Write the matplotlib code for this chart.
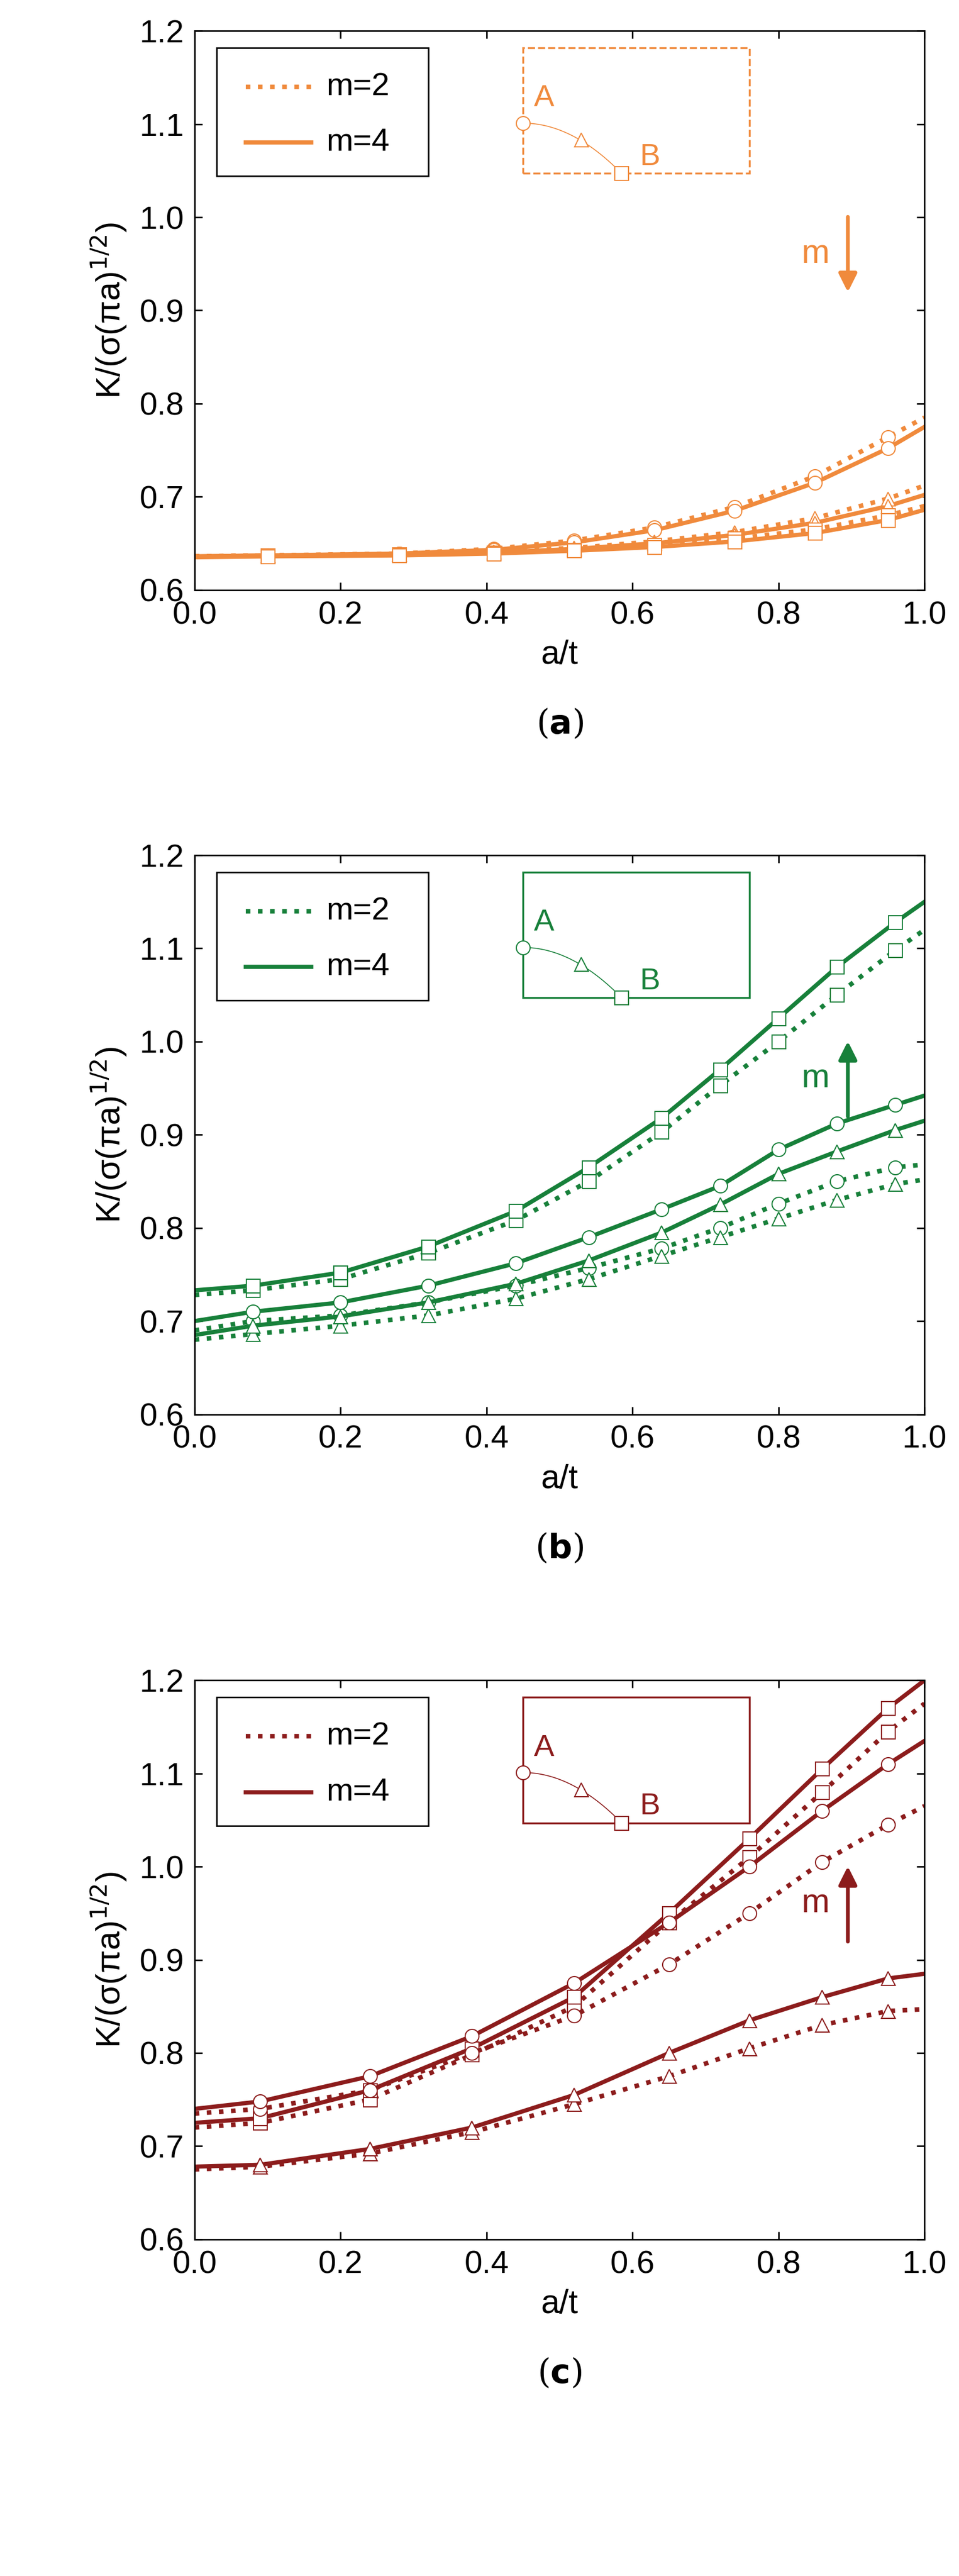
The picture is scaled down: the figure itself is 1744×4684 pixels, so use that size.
import numpy as np
import matplotlib.pyplot as plt
from matplotlib.patches import Rectangle, FancyArrowPatch

plt.rcParams['font.family'] = ['Liberation Sans', 'DejaVu Sans']

# ---- panel (a) ----
xa = [0.0, 0.1, 0.28, 0.41, 0.52, 0.63, 0.74, 0.85, 0.95, 1.0]
a_circ_m2 = [0.636, 0.637, 0.639, 0.644, 0.653, 0.667, 0.689, 0.722, 0.764, 0.785]
a_circ_m4 = [0.636, 0.637, 0.639, 0.643, 0.651, 0.664, 0.685, 0.715, 0.752, 0.775]
a_tri_m2 = [0.636, 0.637, 0.638, 0.641, 0.645, 0.652, 0.662, 0.677, 0.698, 0.712]
a_tri_m4 = [0.636, 0.637, 0.638, 0.640, 0.644, 0.650, 0.659, 0.672, 0.690, 0.702]
a_sq_m2 = [0.636, 0.637, 0.638, 0.640, 0.643, 0.648, 0.655, 0.665, 0.680, 0.690]
a_sq_m4 = [0.635, 0.636, 0.637, 0.639, 0.642, 0.646, 0.652, 0.661, 0.675, 0.686]

# ---- panel (b) ----
xb = [0.0, 0.08, 0.2, 0.32, 0.44, 0.54, 0.64, 0.72, 0.8, 0.88, 0.96, 1.0]
b_sq_m4 = [0.733, 0.738, 0.752, 0.780, 0.818, 0.865, 0.918, 0.970, 1.025, 1.080, 1.128, 1.150]
b_sq_m2 = [0.728, 0.733, 0.745, 0.773, 0.808, 0.850, 0.903, 0.953, 1.000, 1.050, 1.098, 1.120]
b_circ_m4 = [0.700, 0.710, 0.720, 0.738, 0.762, 0.790, 0.820, 0.845, 0.884, 0.912, 0.932, 0.942]
b_circ_m2 = [0.690, 0.700, 0.706, 0.720, 0.738, 0.757, 0.778, 0.800, 0.826, 0.850, 0.865, 0.868]
b_tri_m4 = [0.685, 0.695, 0.705, 0.720, 0.740, 0.765, 0.795, 0.825, 0.858, 0.882, 0.905, 0.915]
b_tri_m2 = [0.680, 0.686, 0.695, 0.706, 0.724, 0.745, 0.770, 0.790, 0.810, 0.830, 0.847, 0.852]

# ---- panel (c) ----
xc = [0.0, 0.09, 0.24, 0.38, 0.52, 0.65, 0.76, 0.86, 0.95, 1.0]
c_sq_m4 = [0.725, 0.730, 0.760, 0.805, 0.860, 0.950, 1.030, 1.105, 1.170, 1.200]
c_sq_m2 = [0.720, 0.725, 0.750, 0.798, 0.850, 0.940, 1.010, 1.080, 1.145, 1.175]
c_circ_m4 = [0.740, 0.748, 0.775, 0.818, 0.875, 0.940, 1.000, 1.060, 1.110, 1.135]
c_circ_m2 = [0.735, 0.740, 0.760, 0.800, 0.840, 0.895, 0.950, 1.005, 1.045, 1.065]
c_tri_m4 = [0.678, 0.680, 0.697, 0.720, 0.755, 0.800, 0.835, 0.860, 0.880, 0.885]
c_tri_m2 = [0.675, 0.678, 0.692, 0.715, 0.745, 0.775, 0.805, 0.830, 0.845, 0.847]

panels = [
    ('a', '#F08A3C', xa, [(a_circ_m2, a_circ_m4, 'o'), (a_tri_m2, a_tri_m4, '^'), (a_sq_m2, a_sq_m4, 's')], 'down'),
    ('b', '#17803A', xb, [(b_sq_m2, b_sq_m4, 's'), (b_circ_m2, b_circ_m4, 'o'), (b_tri_m2, b_tri_m4, '^')], 'up'),
    ('c', '#8C1C1C', xc, [(c_sq_m2, c_sq_m4, 's'), (c_circ_m2, c_circ_m4, 'o'), (c_tri_m2, c_tri_m4, '^')], 'up'),
]

fig = plt.figure(figsize=(17.44, 46.84), dpi=100)
bottoms = [0.771, 0.451, 0.1307]
for (lab, col, x, series, arrow), bot in zip(panels, bottoms):
    ax = fig.add_axes([0.203, bot, 0.761, 0.217])
    for m2, m4, mk in series:
        ax.plot(x, m2, ':', color=col, lw=6)
        ax.plot(x, m4, '-', color=col, lw=5.5)
        ax.plot(x[1:-1], m2[1:-1], mk, ls='none', ms=18, mfc='white', mec=col, mew=1.5)
        ax.plot(x[1:-1], m4[1:-1], mk, ls='none', ms=18, mfc='white', mec=col, mew=1.5)
    ax.set_xlim(0, 1)
    ax.set_ylim(0.6, 1.2)
    ax.set_xticks(np.arange(0, 1.01, 0.2))
    ax.set_yticks(np.arange(0.6, 1.21, 0.1))
    ax.tick_params(labelsize=42, direction='in', length=10, width=2, top=True, right=True, pad=14)
    for s in ax.spines.values():
        s.set_linewidth(2)
    ax.set_xlabel('a/t', fontsize=44, labelpad=12)
    ax.set_ylabel(r'K/(σ(πa)$^{1/2}$)', fontsize=44, labelpad=14)

    # legend box
    ax.add_patch(Rectangle((0.03, 0.74), 0.29, 0.23, transform=ax.transAxes, fill=False, lw=2, ec='black'))
    ax.plot([0.07, 0.16], [0.90, 0.90], ':', color=col, lw=6, transform=ax.transAxes)
    ax.plot([0.07, 0.16], [0.80, 0.80], '-', color=col, lw=5.5, transform=ax.transAxes)
    ax.text(0.18, 0.90, 'm=2', transform=ax.transAxes, fontsize=42, va='center')
    ax.text(0.18, 0.80, 'm=4', transform=ax.transAxes, fontsize=42, va='center')

    # schematic
    ax.add_patch(Rectangle((0.45, 0.745), 0.31, 0.225, transform=ax.transAxes, fill=False, lw=2.5, ec=col,
                           ls='--' if lab == 'a' else '-'))
    sx = np.linspace(0, 1, 50)
    ax.plot(0.45 + 0.135 * sx, 0.835 - 0.09 * sx ** 2, color=col, lw=1.2, transform=ax.transAxes)
    ax.plot([0.45], [0.835], 'o', ms=18, mfc='white', mec=col, mew=1.5, transform=ax.transAxes)
    ax.plot([0.53], [0.805], '^', ms=18, mfc='white', mec=col, mew=1.5, transform=ax.transAxes)
    ax.plot([0.585], [0.745], 's', ms=18, mfc='white', mec=col, mew=1.5, transform=ax.transAxes)
    ax.text(0.465, 0.865, 'A', transform=ax.transAxes, fontsize=40, color=col)
    ax.text(0.61, 0.76, 'B', transform=ax.transAxes, fontsize=40, color=col)

    # m arrow
    ax.text(0.87, 0.60, 'm', transform=ax.transAxes, fontsize=44, color=col, va='center', ha='right')
    if arrow == 'down':
        p0, p1 = (0.895, 0.67), (0.895, 0.53)
    else:
        p0, p1 = (0.895, 0.53), (0.895, 0.67)
    ax.add_patch(FancyArrowPatch(p0, p1, transform=ax.transAxes, arrowstyle='-|>', mutation_scale=50,
                                 color=col, lw=5))

    ax.text(0.5, -0.21, '(' + r'$\mathbf{' + lab + '}$' + ')', transform=ax.transAxes, fontsize=44,
            ha='center', va='top', family='DejaVu Serif')

fig.savefig('out.png', dpi=100)
